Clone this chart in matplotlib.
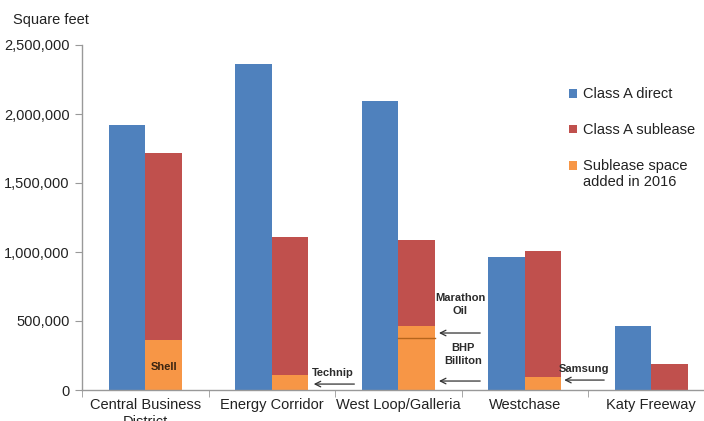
import matplotlib
matplotlib.use("Agg")
import matplotlib.pyplot as plt
from matplotlib.patches import Patch, Rectangle
from matplotlib.legend_handler import HandlerBase
from matplotlib.ticker import FuncFormatter, FixedLocator
import numpy as np

categories = ["Central Business\nDistrict", "Energy Corridor", "West Loop/Galleria", "Westchase", "Katy Freeway"]
class_a_direct = [1920000, 2362000, 2094000, 964000, 464000]
class_a_sublease = [1717000, 1109000, 1087000, 1007000, 188000]
added_2016_first = [362000, 109000, 377000, 94000, 0]
added_2016_second = [0, 0, 87000, 0, 0]
y_ticks = [0, 500000, 1000000, 1500000, 2000000, 2500000]

BLUE = "#4F81BD"
RED = "#C0504D"
ORANGE = "#F79646"

plt.rcParams["font.family"] = ["Liberation Sans", "DejaVu Sans"]

fig = plt.figure(figsize=(7.04, 4.21), dpi=100)
ax = fig.add_axes([82 / 704, 1 - 390 / 421, 632.5 / 704, 345 / 421])

x = np.arange(len(categories))
w = 0.29
ax.bar(x - w / 2, class_a_direct, w, color=BLUE)
ax.bar(x + w / 2, class_a_sublease, w, color=RED)
ax.bar(x + w / 2, added_2016_first, w, color=ORANGE)
ax.bar(x + w / 2, added_2016_second, w, bottom=added_2016_first, color=ORANGE)
for i, (lo, up) in enumerate(zip(added_2016_first, added_2016_second)):
    if up > 0:
        ax.plot([x[i], x[i] + w], [lo, lo], color="#B5651D", lw=1.0)

ax.set_xlim(-0.5, len(categories) - 0.5)
ax.set_ylim(0, 2500000)
ax.yaxis.set_major_locator(FixedLocator(y_ticks))
ax.yaxis.set_major_formatter(FuncFormatter(lambda v, p: f"{int(v):,}"))
ax.set_xticks(x)
ax.set_xticklabels(categories)
ax.set_xticks(np.arange(-0.5, len(categories), 1.0), minor=True)
ax.tick_params(axis="x", which="major", length=0, labelsize=10.5, pad=6, colors="#222222")
ax.tick_params(axis="x", which="minor", length=5, color="#999999")
ax.tick_params(axis="y", length=5, color="#999999", labelsize=10.5, labelcolor="#222222", pad=4)
for s in ["top", "right"]:
    ax.spines[s].set_visible(False)
for s in ["left", "bottom"]:
    ax.spines[s].set_color("#999999")
    ax.spines[s].set_linewidth(1.0)

fig.text(13 / 704, 1 - 20 / 421, "Square feet", fontsize=10.5, color="#222222", va="center", ha="left")


class ShiftedSquare(HandlerBase):
    def __init__(self, dy=0.0):
        super().__init__()
        self.dy = dy

    def create_artists(self, legend, orig_handle, xdescent, ydescent, width, height, fontsize, trans):
        r = Rectangle((-xdescent, -ydescent + self.dy * fontsize), width, height,
                      facecolor=orig_handle.get_facecolor(), edgecolor="none", transform=trans)
        return [r]


handles = [Patch(color=BLUE), Patch(color=RED), Patch(color=ORANGE)]
labels = ["Class A direct", "Class A sublease", "Sublease space\nadded in 2016"]
fig.legend(handles, labels, loc="upper left", bbox_to_anchor=(562 / 704, 1 - 80 / 421),
           frameon=False, fontsize=10.5, handlelength=0.55, handleheight=0.55,
           handletextpad=0.4, labelspacing=1.5, borderpad=0, labelcolor="#222222",
           handler_map={handles[0]: ShiftedSquare(0.0), handles[1]: ShiftedSquare(0.0),
                        handles[2]: ShiftedSquare(0.6)})

ann_kw = dict(fontsize=8, fontweight="bold", ha="center", va="center", color="#2b2b2b")
arrow_kw = dict(arrowstyle="->", color="#333333", lw=0.9)

ax.text(x[0] + w / 2, 168000, "Shell", fontsize=8, fontweight="bold", ha="center", va="center", color="#3a2410")

ax.annotate("", xy=(1.31, 43000), xytext=(1.675, 43000), arrowprops=arrow_kw)
ax.text(1.485, 124000, "Technip", **ann_kw)

ax.annotate("", xy=(2.30, 413000), xytext=(2.67, 413000), arrowprops=arrow_kw)
ax.text(2.49, 620000, "Marathon\nOil", linespacing=1.4, **ann_kw)

ax.annotate("", xy=(2.30, 65000), xytext=(2.67, 65000), arrowprops=arrow_kw)
ax.text(2.51, 260000, "BHP\nBilliton", linespacing=1.4, **ann_kw)

ax.annotate("", xy=(3.29, 72000), xytext=(3.65, 72000), arrowprops=arrow_kw)
ax.text(3.47, 152000, "Samsung", **ann_kw)

fig.savefig("out.png", dpi=100)
